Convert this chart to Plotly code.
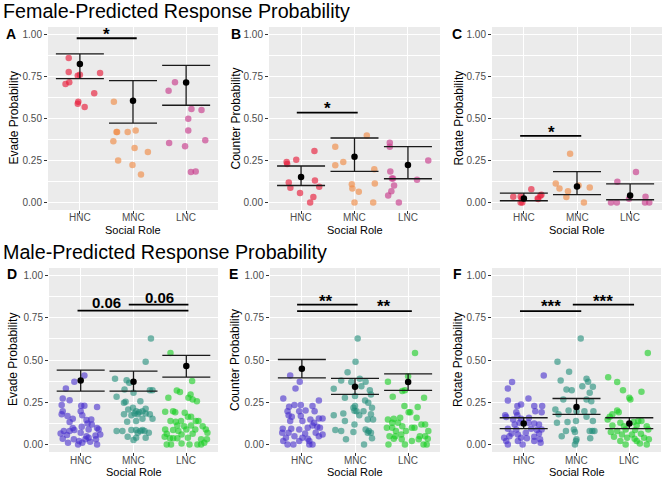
import plotly.graph_objects as go

# ---------------- data ----------------
categories = ["HNC", "MNC", "LNC"]
ytick_vals = [0, 0.25, 0.5, 0.75, 1.0]
ytick_text = ["0.00", "0.25", "0.50", "0.75", "1.00"]

# Panel A: Female Evade
A_HNC_y = [0.861, 0.777, 0.716, 0.706, 0.755, 0.761, 0.771, 0.650, 0.600, 0.588, 0.569]
A_HNC_j = [-0.21, -0.21, -0.20, -0.27, -0.04, 0.0, 0.38, 0.27, -0.03, -0.04, 0.09]
A_MNC_y = [0.600, 0.419, 0.419, 0.419, 0.429, 0.364, 0.324, 0.300, 0.250, 0.223, 0.167]
A_MNC_j = [-0.36, -0.31, -0.30, -0.10, 0.05, -0.37, 0.03, 0.28, -0.28, -0.01, 0.15]
A_LNC_y = [0.666, 0.716, 0.557, 0.551, 0.499, 0.429, 0.354, 0.334, 0.370, 0.181, 0.185]
A_LNC_j = [-0.33, -0.21, 0.10, 0.29, 0.04, 0.04, -0.32, -0.02, 0.36, 0.09, 0.18]
A_mean = [0.825, 0.606, 0.714]
A_lo = [0.738, 0.473, 0.579]
A_hi = [0.885, 0.726, 0.817]

# Panel B: Female Counter
B_HNC_y = [0.241, 0.229, 0.254, 0.306, 0.119, 0.087, 0.056, 0.0, 0.032, 0.131, 0.093]
B_HNC_j = [-0.27, -0.26, -0.09, 0.25, -0.23, -0.20, -0.02, 0.17, 0.23, 0.26, 0.34]
B_MNC_y = [0.332, 0.221, 0.241, 0.398, 0.197, 0.113, 0.109, 0.083, 0.064, 0.0, 0.0]
B_MNC_j = [-0.36, -0.36, -0.21, 0.23, 0.37, 0.38, -0.05, -0.04, 0.08, 0.0, 0.35]
B_LNC_y = [0.356, 0.332, 0.185, 0.143, 0.143, 0.101, 0.066, 0.042, 0.0, 0.135, 0.250]
B_LNC_j = [-0.34, -0.34, -0.33, -0.30, -0.28, -0.26, -0.31, -0.37, -0.17, 0.17, 0.38]
B_mean = [0.151, 0.272, 0.223]
B_lo = [0.101, 0.185, 0.141]
B_hi = [0.217, 0.384, 0.332]

# Panel C: Female Rotate
C_HNC_y = [0.034, 0.036, 0.022, 0.0, 0.0, 0.078, 0.024, 0.040, 0.046, 0.020]
C_HNC_j = [-0.20, -0.06, -0.04, -0.06, -0.03, 0.14, 0.26, 0.31, 0.33, 0.27]
C_MNC_y = [0.290, 0.113, 0.083, 0.066, 0.032, 0.101, 0.089, 0.0]
C_MNC_j = [-0.13, -0.40, -0.33, -0.17, -0.20, 0.03, 0.24, 0.13]
C_LNC_y = [0.123, 0.181, 0.0, 0.0, 0.034, 0.0, 0.0, 0.022]
C_LNC_j = [-0.24, 0.11, -0.36, -0.25, 0.29, 0.28, 0.36, -0.02]
C_mean = [0.024, 0.095, 0.042]
C_lo = [0.010, 0.046, 0.016]
C_hi = [0.056, 0.183, 0.111]

# Panel D: Male Evade
D_HNC_y = [0.408, 0.371, 0.331, 0.272, 0.262, 0.233, 0.229, 0.229, 0.221, 0.197, 0.197, 0.178,
           0.168, 0.152, 0.172, 0.144, 0.148, 0.132, 0.124, 0.118, 0.097, 0.089, 0.097, 0.105,
           0.079, 0.079, 0.085, 0.089, 0.065, 0.055, 0.069, 0.049, 0.053, 0.059, 0.034, 0.030,
           0.020, 0.030, 0.039, 0.030, 0.010, 0.010, 0.0, 0.0, 0.016]
D_HNC_j = [0.07, -0.12, -0.28, -0.34, -0.21, -0.36, 0.01, 0.07, 0.31, -0.34, 0.0, -0.36,
           -0.25, -0.15, 0.03, 0.11, 0.20, -0.21, 0.13, 0.21, 0.31, 0.34, -0.15, 0.02,
           -0.32, -0.21, -0.12, 0.15, -0.38, -0.26, 0.0, 0.11, 0.28, 0.37, -0.34, -0.13,
           -0.03, 0.09, 0.15, 0.29, -0.24, 0.03, 0.31, -0.05, 0.18]
D_MNC_y = [0.627, 0.489, 0.389, 0.380, 0.365, 0.325, 0.321, 0.321, 0.282, 0.306, 0.252, 0.247,
           0.256, 0.217, 0.211, 0.207, 0.197, 0.191, 0.197, 0.183, 0.178, 0.172, 0.178, 0.183,
           0.178, 0.152, 0.152, 0.134, 0.138, 0.079, 0.079, 0.085, 0.085, 0.079, 0.085, 0.079,
           0.069, 0.069, 0.045, 0.039, 0.039, 0.026]
D_MNC_j = [0.33, 0.23, -0.35, -0.13, -0.08, -0.17, 0.31, 0.36, -0.32, 0.0, -0.15, -0.18,
           0.13, -0.01, 0.23, -0.10, 0.05, 0.11, 0.17, 0.02, 0.08, -0.04, -0.18, 0.23,
           0.31, 0.36, 0.17, -0.12, 0.05, -0.32, -0.21, -0.04, 0.05, 0.13, 0.17, 0.21,
           0.29, 0.08, -0.11, 0.05, 0.23, 0.0]
D_LNC_y = [0.542, 0.375, 0.320, 0.310, 0.296, 0.276, 0.276, 0.266, 0.256, 0.193, 0.197, 0.191,
           0.187, 0.164, 0.164, 0.138, 0.134, 0.138, 0.138, 0.138, 0.112, 0.108, 0.112, 0.108,
           0.089, 0.085, 0.079, 0.089, 0.089, 0.089, 0.063, 0.059, 0.063, 0.069, 0.045, 0.036,
           0.036, 0.036, 0.039, 0.030, 0.030, 0.0, 0.0, 0.006, 0.0, 0.0, 0.0, 0.010]
D_LNC_j = [-0.30, 0.11, -0.18, -0.12, 0.08, -0.34, 0.04, 0.12, 0.20, -0.40, -0.25, -0.21,
           -0.03, 0.03, 0.09, -0.30, -0.20, -0.10, 0.18, 0.23, -0.17, -0.04, 0.09, 0.31,
           -0.40, -0.25, -0.15, 0.0, 0.17, 0.37, -0.37, -0.09, 0.12, 0.40, -0.41, -0.31,
           -0.25, -0.17, 0.03, 0.28, 0.39, -0.37, -0.29, -0.09, 0.06, 0.21, 0.28, 0.34]
D_mean = [0.379, 0.371, 0.464]
D_lo = [0.316, 0.316, 0.398]
D_hi = [0.440, 0.434, 0.527]

# Panel E: Male Counter
E_HNC_y = [0.408, 0.371, 0.331, 0.272, 0.260, 0.223, 0.233, 0.233, 0.227, 0.197, 0.197, 0.201,
           0.197, 0.172, 0.164, 0.168, 0.138, 0.138, 0.148, 0.154, 0.154, 0.128, 0.112, 0.105,
           0.093, 0.093, 0.089, 0.099, 0.099, 0.069, 0.069, 0.065, 0.069, 0.059, 0.039, 0.049,
           0.039, 0.034, 0.049, 0.020, 0.020, 0.020, 0.0, 0.0, 0.0, 0.0]
E_HNC_j = [-0.22, -0.04, -0.12, -0.35, 0.32, -0.24, -0.14, -0.02, 0.20, -0.27, -0.05, 0.07,
           0.24, -0.25, -0.19, -0.02, -0.22, 0.01, 0.16, 0.32, 0.39, 0.23, 0.20, 0.29,
           -0.36, -0.20, -0.05, 0.11, 0.34, -0.37, -0.25, 0.06, 0.26, 0.39, -0.30, -0.14,
           0.01, 0.11, 0.32, -0.35, -0.05, 0.14, -0.27, 0.14, 0.20, -0.16]
E_MNC_y = [0.628, 0.489, 0.428, 0.379, 0.389, 0.371, 0.329, 0.369, 0.345, 0.321, 0.296, 0.276,
           0.286, 0.260, 0.247, 0.227, 0.217, 0.217, 0.199, 0.197, 0.197, 0.172, 0.183, 0.172,
           0.178, 0.138, 0.148, 0.148, 0.118, 0.085, 0.079, 0.089, 0.079, 0.069, 0.069, 0.073,
           0.030, 0.036, 0.0]
E_MNC_j = [0.05, 0.01, -0.14, -0.26, 0.09, 0.20, -0.40, -0.07, 0.12, 0.28, 0.30, -0.19,
           0.0, 0.19, 0.25, 0.0, -0.03, 0.32, -0.01, 0.03, 0.16, -0.40, -0.22, 0.08,
           0.30, -0.19, 0.24, 0.34, -0.01, -0.37, -0.26, 0.20, 0.26, 0.24, 0.30, -0.03,
           -0.17, 0.32, 0.17]
E_LNC_y = [0.542, 0.404, 0.371, 0.316, 0.321, 0.282, 0.276, 0.227, 0.191, 0.191, 0.221, 0.148,
           0.152, 0.158, 0.158, 0.128, 0.128, 0.108, 0.118, 0.118, 0.099, 0.099, 0.099, 0.099,
           0.079, 0.079, 0.079, 0.049, 0.049, 0.059, 0.049, 0.049, 0.034, 0.030, 0.020, 0.030,
           0.034, 0.0, 0.0, 0.0, 0.0]
E_LNC_j = [0.13, 0.0, -0.38, -0.11, -0.06, -0.29, 0.30, -0.07, 0.01, 0.04, 0.18, -0.38,
           -0.27, -0.15, 0.16, -0.30, -0.19, -0.11, 0.25, 0.32, -0.40, -0.30, 0.07, 0.12,
           -0.23, -0.04, 0.38, -0.35, -0.24, -0.13, 0.22, 0.32, -0.27, -0.12, 0.07, 0.20,
           0.37, -0.37, -0.06, 0.29, 0.35]
E_mean = [0.448, 0.341, 0.369]
E_lo = [0.394, 0.296, 0.320]
E_hi = [0.503, 0.391, 0.418]

# Panel F: Male Rotate
F_HNC_y = [0.408, 0.369, 0.331, 0.260, 0.272, 0.227, 0.237, 0.227, 0.227, 0.172, 0.191, 0.172,
           0.197, 0.191, 0.162, 0.148, 0.152, 0.158, 0.118, 0.128, 0.128, 0.124, 0.118, 0.093,
           0.089, 0.093, 0.085, 0.089, 0.065, 0.059, 0.069, 0.065, 0.039, 0.049, 0.039, 0.036,
           0.045, 0.030, 0.020, 0.020, 0.020, 0.0, 0.0, 0.010]
F_HNC_j = [0.38, -0.22, -0.30, -0.30, 0.09, -0.12, -0.05, 0.20, 0.35, -0.35, -0.14, -0.12,
           0.22, 0.34, -0.33, -0.20, -0.05, 0.10, -0.17, -0.08, 0.09, 0.20, 0.29, -0.30,
           -0.14, 0.14, 0.25, 0.34, -0.23, -0.11, 0.04, 0.29, -0.37, -0.27, -0.05, 0.06,
           0.20, 0.31, -0.33, -0.11, 0.20, -0.30, -0.02, 0.32]
F_MNC_y = [0.628, 0.489, 0.430, 0.379, 0.389, 0.371, 0.325, 0.321, 0.345, 0.341, 0.306, 0.266,
           0.256, 0.266, 0.207, 0.201, 0.197, 0.197, 0.197, 0.178, 0.132, 0.138, 0.138, 0.128,
           0.164, 0.079, 0.089, 0.073, 0.079, 0.079, 0.079, 0.049, 0.030, 0.036, 0.0, 0.020]
F_MNC_j = [0.08, -0.36, -0.14, -0.30, 0.19, 0.22, -0.19, -0.09, 0.11, 0.31, 0.25, 0.19,
           0.28, -0.25, -0.40, -0.15, 0.0, 0.15, 0.32, -0.34, -0.17, -0.01, 0.31, -0.37,
           0.19, -0.20, -0.05, -0.03, 0.25, 0.30, 0.34, -0.28, 0.0, 0.26, -0.03, -0.01]
F_LNC_y = [0.542, 0.398, 0.369, 0.321, 0.312, 0.276, 0.266, 0.201, 0.191, 0.178, 0.164, 0.148,
           0.128, 0.132, 0.138, 0.138, 0.112, 0.108, 0.112, 0.108, 0.073, 0.079, 0.089, 0.085,
           0.089, 0.059, 0.059, 0.063, 0.045, 0.039, 0.034, 0.039, 0.030, 0.020, 0.020, 0.0,
           0.006, 0.0]
F_LNC_j = [0.35, -0.40, -0.23, -0.12, 0.23, 0.0, 0.02, -0.23, -0.20, -0.32, -0.37, -0.41,
           -0.17, 0.08, 0.17, 0.23, -0.32, -0.10, 0.14, 0.33, -0.35, -0.23, -0.07, 0.11,
           0.36, -0.14, 0.05, 0.22, -0.29, -0.04, 0.10, 0.28, 0.37, -0.17, 0.14, -0.07,
           0.20, 0.33]
F_mean = [0.124, 0.221, 0.124]
F_lo = [0.093, 0.178, 0.093]
F_hi = [0.158, 0.272, 0.158]

# significance brackets: (x start, x end, y, label, label x, label y)
A_sig = [(0.94, 2.07, 0.978, "*", 1.50, 1.016)]
B_sig = [(0.92, 2.06, 0.535, "*", 1.49, 0.577)]
C_sig = [(0.93, 2.08, 0.396, "*", 1.52, 0.437)]
D_sig = [(0.94, 3.04, 0.792, "0.06", 1.48, 0.842), (1.91, 3.04, 0.828, "0.06", 2.49, 0.872)]
E_sig = [(0.91, 2.05, 0.828, "**", 1.46, 0.866), (0.91, 3.07, 0.790, "**", 2.55, 0.834)]
F_sig = [(0.93, 2.09, 0.790, "***", 1.51, 0.834), (1.93, 3.09, 0.828, "***", 2.50, 0.866)]

titles = ["Female-Predicted Response Probability", "Male-Predicted Response Probability"]
ytitles = ["Evade Probability", "Counter Probability", "Rotate Probability"]
letters = ["A", "B", "C", "D", "E", "F"]

# ---------------- styling / layout ----------------
W, H = 668, 478
FONT = "Liberation Sans, Arial, Helvetica, sans-serif"
female_cols = ["rgba(232,30,60,0.65)", "rgba(240,140,70,0.65)", "rgba(200,60,140,0.65)"]
male_cols = ["rgba(70,45,205,0.6)", "rgba(30,140,120,0.6)", "rgba(20,205,30,0.6)"]

xdom = [(48, 218), (269, 440), (492, 662), (49, 218), (270, 440), (492, 661)]
ydom = [(27, 210)] * 3 + [(268, 452)] * 3

panels = [
    ([(A_HNC_y, A_HNC_j), (A_MNC_y, A_MNC_j), (A_LNC_y, A_LNC_j)], A_mean, A_lo, A_hi, A_sig),
    ([(B_HNC_y, B_HNC_j), (B_MNC_y, B_MNC_j), (B_LNC_y, B_LNC_j)], B_mean, B_lo, B_hi, B_sig),
    ([(C_HNC_y, C_HNC_j), (C_MNC_y, C_MNC_j), (C_LNC_y, C_LNC_j)], C_mean, C_lo, C_hi, C_sig),
    ([(D_HNC_y, D_HNC_j), (D_MNC_y, D_MNC_j), (D_LNC_y, D_LNC_j)], D_mean, D_lo, D_hi, D_sig),
    ([(E_HNC_y, E_HNC_j), (E_MNC_y, E_MNC_j), (E_LNC_y, E_LNC_j)], E_mean, E_lo, E_hi, E_sig),
    ([(F_HNC_y, F_HNC_j), (F_MNC_y, F_MNC_j), (F_LNC_y, F_LNC_j)], F_mean, F_lo, F_hi, F_sig),
]

fig = go.Figure()
layout = dict(
    width=W, height=H, margin=dict(l=0, r=0, t=0, b=0),
    paper_bgcolor="white", plot_bgcolor="#EBEBEB", showlegend=False,
    font=dict(family=FONT, color="black"),
)
annotations = []

for i, (groups, mean, lo, hi, sigs) in enumerate(panels):
    k = "" if i == 0 else str(i + 1)
    xa, ya = "x" + k, "y" + k
    cols = female_cols if i < 3 else male_cols
    x0, x1 = xdom[i]
    y0, y1 = ydom[i]
    layout["xaxis" + k] = dict(
        domain=[x0 / W, x1 / W], anchor=ya, range=[0.4, 3.6],
        tickvals=[1, 2, 3], ticktext=categories, showticklabels=False,
        showgrid=True, gridcolor="white", gridwidth=1.3,
        zeroline=False, ticks="outside", ticklen=3, tickcolor="#333333", tickwidth=1,
        showline=False, fixedrange=True,
    )
    layout["yaxis" + k] = dict(
        domain=[1 - y1 / H, 1 - y0 / H], anchor=xa, range=[-0.045, 1.045],
        tickvals=ytick_vals, ticktext=ytick_text, showgrid=True, gridcolor="white", gridwidth=1.3,
        minor=dict(tickvals=[0.125, 0.375, 0.625, 0.875], showgrid=True, gridcolor="white",
                   gridwidth=0.7, ticks=""),
        zeroline=False, ticks="outside", ticklen=3, tickcolor="#333333", tickwidth=1,
        tickfont=dict(size=10, color="#4D4D4D", family=FONT), showline=False, fixedrange=True,
    )
    # x tick labels
    for c, cat in enumerate(categories):
        annotations.append(dict(
            x=c + 1, y=1 - (217 if i < 3 else 460) / H, xref=xa, yref="paper", text=cat,
            showarrow=False, xanchor="center", yanchor="middle",
            font=dict(size=10, color="#4D4D4D", family=FONT),
        ))
    # jittered points
    for g, (vals, jit) in enumerate(groups):
        fig.add_trace(go.Scatter(
            x=[g + 1 + j for j in jit], y=vals, mode="markers", xaxis=xa, yaxis=ya,
            marker=dict(size=6.5, color=cols[g], line=dict(width=0)), hoverinfo="skip",
        ))
    # mean + error bars
    fig.add_trace(go.Scatter(
        x=[1, 2, 3], y=mean, mode="markers", xaxis=xa, yaxis=ya,
        marker=dict(size=6.5, color="black"),
        error_y=dict(type="data", symmetric=False,
                     array=[h - m for h, m in zip(hi, mean)],
                     arrayminus=[m - l for m, l in zip(mean, lo)],
                     width=24, thickness=1.3, color="#1a1a1a"),
    ))
    # significance brackets
    for (sx0, sx1, sy, lab, lx, ly) in sigs:
        fig.add_trace(go.Scatter(
            x=[sx0, sx1], y=[sy, sy], mode="lines", xaxis=xa, yaxis=ya,
            line=dict(color="black", width=1.8), hoverinfo="skip",
        ))
        is_star = "*" in lab
        annotations.append(dict(
            x=lx, y=ly, xref=xa, yref=ya, text="<b>%s</b>" % lab, showarrow=False,
            xanchor="center", yanchor="middle", yshift=-3 if is_star else 0,
            font=dict(size=17 if is_star else 15, color="black", family=FONT),
        ))
    # panel letter
    lx_px = [11, 236, 457, 12, 233, 457][i]
    ly_px = 34 if i < 3 else 274
    annotations.append(dict(
        x=lx_px / W, y=1 - ly_px / H, xref="paper", yref="paper", text="<b>%s</b>" % letters[i],
        showarrow=False, xanchor="center", yanchor="middle",
        font=dict(size=14, color="black", family=FONT),
    ))
    # y-axis title
    yt_px = [13, 235, 458, 13, 235, 458][i]
    annotations.append(dict(
        x=yt_px / W, y=1 - ((y0 + y1) / 2) / H, xref="paper", yref="paper",
        text=ytitles[i % 3], textangle=-90, showarrow=False, xanchor="center", yanchor="middle",
        font=dict(size=12, color="black", family=FONT),
    ))
    # x-axis title
    xt_py = 230 if i < 3 else 472
    annotations.append(dict(
        x=((x0 + x1) / 2) / W, y=1 - xt_py / H, xref="paper", yref="paper",
        text="Social Role", showarrow=False, xanchor="center", yanchor="middle",
        font=dict(size=11, color="black", family=FONT),
    ))

# row titles
for r, (t, ypx) in enumerate(zip(titles, [11, 252])):
    annotations.append(dict(
        x=1 / W, y=1 - ypx / H, xref="paper", yref="paper", text=t, showarrow=False,
        xanchor="left", yanchor="middle", font=dict(size=19.7, color="black", family=FONT),
    ))

layout["annotations"] = annotations
fig.update_layout(**layout)
fig.write_html("out.html", config={"displayModeBar": False},
               post_script="document.body.style.margin='0';")
